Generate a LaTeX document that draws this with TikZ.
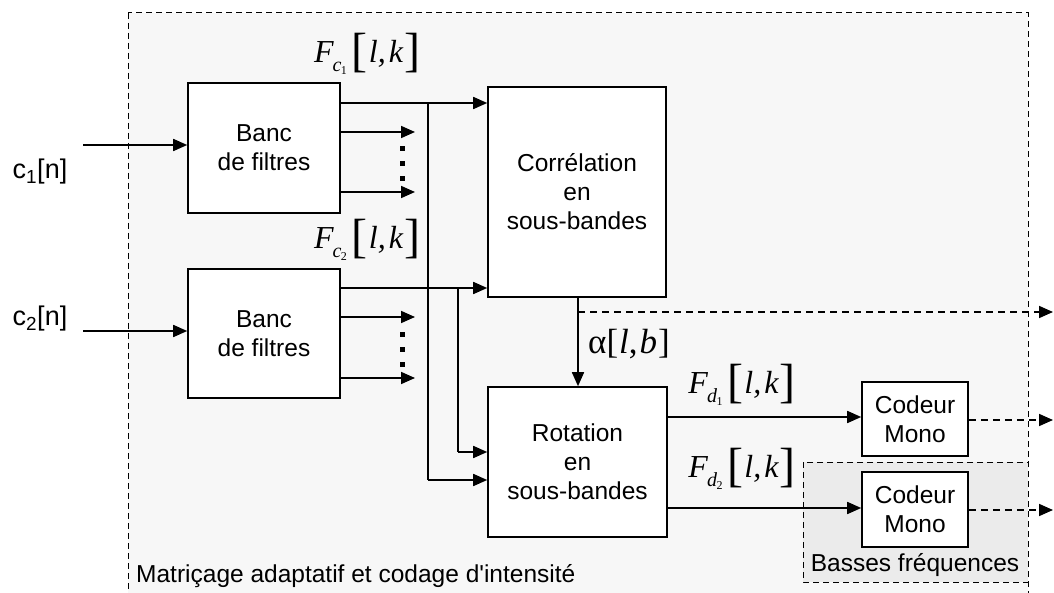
\documentclass[tikz,border=0pt]{standalone}
\usepackage{fontspec}
\setmainfont{Liberation Sans}[Ligatures=TeXOff]
\newfontfamily\tms{Liberation Serif}
\usetikzlibrary{arrows.meta}
\definecolor{bgout}{HTML}{F7F7F7}
\definecolor{bglow}{HTML}{EBEBEB}
\newcommand{\FL}[2]{{\tms\fontsize{32}{32}\selectfont\itshape F\kern-1pt\raisebox{-9pt}{\fontsize{20}{20}\selectfont #1\raisebox{-3pt}{\kern-0.5pt\fontsize{12}{12}\selectfont\upshape #2}}\kern5pt\raisebox{-4pt}{\fontsize{48}{48}\selectfont\upshape[}\kern1pt l,\kern3pt k\kern1pt\raisebox{-4pt}{\fontsize{48}{48}\selectfont\upshape]}}}
\tikzset{
 blk/.style={draw, line width=1.6pt, fill=white, align=center, font=\fontsize{24.5}{29}\selectfont, inner sep=0},
 ln/.style={line width=1.7pt},
 arr/.style={line width=1.7pt, -{Triangle[length=14pt,width=12pt]}},
 darr/.style={line width=1.7pt, dash pattern=on 7pt off 5pt, -{Triangle[length=14pt,width=12pt]}},
 frame/.style={line width=1pt, dash pattern=on 6pt off 4pt},
 lab/.style={inner sep=0},
 txt/.style={inner sep=0, font=\fontsize{24.5}{29}\selectfont},
 ctxt/.style={inner sep=0, font=\fontsize{27}{29}\selectfont},
}
\begin{document}
\begin{tikzpicture}[x=1pt,y=-1pt]
\useasboundingbox (0,0) rectangle (1054,593);
\clip (0,0) rectangle (1054,593);
% frames
\draw[frame, fill=bgout] (128,13) rectangle (1028,620);
\draw[frame, fill=bglow] (803,462) rectangle (1028,582);
% blocks
\node[blk, minimum width=152pt, minimum height=130pt] (banc1) at (264,148) {Banc\\de filtres};
\node[blk, minimum width=152pt, minimum height=129pt] (banc2) at (264,333.5) {Banc\\de filtres};
\node[blk, minimum width=178pt, minimum height=210pt] (corr) at (577,192) {Corrélation\\en\\sous-bandes};
\node[blk, minimum width=179pt, minimum height=150pt] (rot) at (577.5,462) {Rotation\\en\\sous-bandes};
\node[blk, minimum width=106pt, minimum height=74pt] (cod1) at (915,419) {Codeur\\Mono};
\node[blk, minimum width=106pt, minimum height=75pt] (cod2) at (915,509.5) {Codeur\\Mono};
% inputs
\coordinate (in1) at (83,145);
\coordinate (in2) at (83,331);
\draw[arr] (in1) -- (in1 -| banc1.west);
\draw[arr] (in2) -- (in2 -| banc2.west);
\node[ctxt] (c1) at (40,172) {c\textsubscript{1}[n]};
\node[ctxt] (c2) at (40,319) {c\textsubscript{2}[n]};
% banc1 outputs
\coordinate (o11) at (340,103);
\coordinate (o12) at (340,132);
\coordinate (o13) at (340,192);
\coordinate (j1) at (428,103);
\coordinate (e1) at (428,480);
\draw[arr] (o11) -- (o11 -| corr.west);
\draw[arr] (o12) -- (415,132);
\draw[arr] (o13) -- (415,192);
\draw[ln] (j1) -- (e1);
\draw[arr] (e1) -- (e1 -| rot.west);
\foreach \y in {146,161,176} \fill (400,\y) rectangle (404.5,\y+5);
% banc2 outputs
\coordinate (o21) at (340,288);
\coordinate (o22) at (340,317);
\coordinate (o23) at (340,378);
\coordinate (j2) at (458,288);
\coordinate (e2) at (458,452);
\draw[arr] (o21) -- (o21 -| corr.west);
\draw[arr] (o22) -- (415,317);
\draw[arr] (o23) -- (415,378);
\draw[ln] (j2) -- (e2);
\draw[arr] (e2) -- (e2 -| rot.west);
\foreach \y in {332,347,362} \fill (400,\y) rectangle (404.5,\y+5);
% alpha
\coordinate (a0) at (578,297);
\coordinate (a1) at (578,312);
\coordinate (aout) at (1053,312);
\draw[arr] (a0) -- (a0 |- rot.north);
\draw[darr] (a1) -- (aout);
\node[lab] (alab) at (629,344) {\tms\fontsize{35}{35}\selectfont α[\kern1pt\textit{l},\kern2pt\textit{b}\kern1pt]};
% rotation outputs
\coordinate (r1) at (667,417);
\coordinate (r2) at (667,508);
\draw[arr] (r1) -- (r1 -| cod1.west);
\draw[arr] (r2) -- (r2 -| cod2.west);
\coordinate (q1) at (1053,420);
\coordinate (q2) at (1053,510);
\draw[darr] (cod1.east |- q1) -- (q1);
\draw[darr] (cod2.east |- q2) -- (q2);
% labels
\node[lab] (fc1) at (367,54) {\FL{c}{1}};
\node[lab] (fc2) at (367,240) {\FL{c}{2}};
\node[lab] (fd1) at (742,385) {\FL{d}{1}};
\node[lab] (fd2) at (742,469) {\FL{d}{2}};
\node[txt, anchor=west] (mat) at (136,576) {Matriçage adaptatif et codage d'intensité};
\node[txt] (bf) at (915,565) {Basses fréquences};
\end{tikzpicture}
\end{document}
